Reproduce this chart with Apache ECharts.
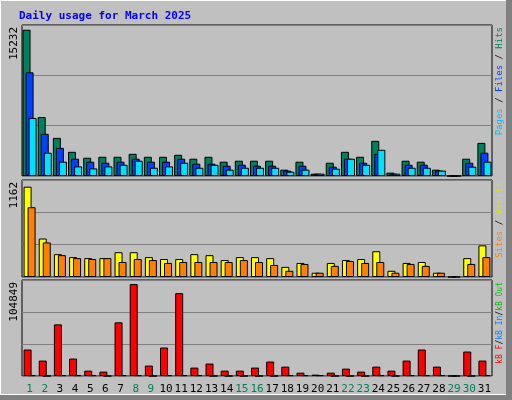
<!DOCTYPE html>
<html>
<head>
<meta charset="utf-8">
<script src="https://cdn.jsdelivr.net/npm/echarts@6/dist/echarts.min.js"></script>
<style>html,body{margin:0;padding:0;background:#c0c0c0}#main{width:512px;height:400px}</style>
</head>
<body>
<div id="main"></div>
<script>
// daily usage, March 2025
let days = []
for (let i = 1; i <= 31; i++) days.push(String(i))
let weekend = ['1', '2', '8', '9', '15', '16', '22', '23', '29', '30']

let hits = [15232, 6140, 3970, 2520, 1900, 2000, 2000, 2310, 2000, 2000, 2210, 1800, 2000, 1490, 1590, 1590,
  1590, 660, 1490, 240, 1380, 2520, 2000, 3660, 350, 1590, 1490, 660, 0, 1800, 3450]
let files = [10800, 4390, 2930, 1800, 1490, 1380, 1490, 1800, 1490, 1490, 1800, 1280, 1280, 1070, 1170, 1070,
  1070, 560, 1070, 240, 970, 1800, 1380, 2310, 240, 1170, 1170, 560, 0, 1380, 2420]
let pages = [6040, 2420, 1490, 1000, 790, 1000, 1170, 1590, 860, 1000, 1380, 860, 1170, 660, 860, 860,
  860, 450, 660, 240, 760, 1800, 1170, 2730, 240, 860, 860, 560, 0, 970, 1490]

let visits = [1162, 495, 294, 256, 243, 243, 319, 319, 256, 231, 231, 294, 281, 218, 256, 256,
  243, 130, 181, 55, 181, 218, 231, 332, 80, 181, 193, 55, 0, 243, 407]
let sites = [898, 445, 281, 243, 231, 243, 193, 231, 218, 181, 193, 193, 193, 193, 218, 193,
  155, 80, 168, 55, 143, 206, 181, 193, 55, 168, 143, 55, 0, 168, 256]

let kbF = [30200, 17600, 58900, 19900, 6100, 5000, 61200, 104849, 11900, 32500, 94500, 9600, 14200, 6100, 6100, 9600,
  16500, 10700, 3800, 1500, 3800, 8400, 5000, 10700, 6100, 17600, 30200, 10700, 0, 27900, 17600]
let kbIn = [900, 0, 900, 900, 900, 0, 900, 900, 0, 900, 900, 900, 0, 0, 0, 0,
  0, 900, 900, 900, 0, 0, 0, 900, 0, 900, 900, 900, 0, 0, 900]

let chart = echarts.init(document.getElementById('main'))

let grids = [
  { left: 22, right: 20, top: 25, height: 151 },
  { left: 22, right: 20, top: 180, height: 97 },
  { left: 22, right: 20, top: 280, height: 96 }
]
let maxes = [15726, 1248, 109500]

let xAxis = grids.map((g, i) => ({
  type: 'category',
  gridIndex: i,
  data: days,
  axisLine: { show: false },
  axisTick: { show: false },
  axisLabel: {
    show: i == 2,
    interval: 0,
    margin: 8,
    fontFamily: 'DejaVu Sans Mono',
    fontSize: 11,
    color: (v) => weekend.indexOf(v) >= 0 ? '#00805c' : '#000'
  }
}))
let yAxis = grids.map((g, i) => ({
  type: 'value',
  gridIndex: i,
  min: 0,
  max: maxes[i],
  interval: maxes[i] / 3,
  axisLabel: { show: false },
  axisLine: { show: false },
  axisTick: { show: false },
  splitLine: { lineStyle: { color: '#808080', width: 1 } }
}))

function bar(name, data, color, idx, gap) {
  return {
    name: name,
    type: 'bar',
    xAxisIndex: idx,
    yAxisIndex: idx,
    data: data,
    barWidth: 8,
    barGap: gap,
    animation: false,
    itemStyle: { color: color, borderColor: '#000', borderWidth: 1 }
  }
}

function sideText(x, y, parts, size) {
  let rich = {}
  let txt = parts.map((p, i) => {
    rich['s' + i] = { fill: p[1], fontFamily: 'DejaVu Sans Mono', fontSize: size }
    return '{s' + i + '|' + p[0] + '}'
  }).join('')
  return {
    type: 'text', x: x, y: y, rotation: Math.PI / 2,
    style: { text: txt, rich: rich, align: 'right', verticalAlign: 'middle' }
  }
}

let option = {
  backgroundColor: '#c0c0c0',
  grid: grids.map(g => Object.assign({ show: true, backgroundColor: '#c0c0c0', borderColor: '#000', borderWidth: 1 }, g)),
  xAxis: xAxis,
  yAxis: yAxis,
  series: [
    bar('Hits', hits, '#00805c', 0, '-62%'),
    bar('Files', files, '#0040ff', 0, '-62%'),
    bar('Pages', pages, '#00e0ff', 0, '-62%'),
    bar('Visits', visits, '#ffff00', 1, '-50%'),
    bar('Sites', sites, '#ff8000', 1, '-50%'),
    bar('kB F', kbF, '#ff0000', 2, '-50%'),
    bar('kB In', kbIn, '#0080ff', 2, '-50%')
  ],
  graphic: [
    { type: 'rect', shape: { x: 0.5, y: 0.5, width: 506, height: 394 }, style: { fill: null, stroke: '#fff', lineWidth: 1 } },
    { type: 'rect', shape: { x: 506, y: 0, width: 6, height: 400 }, style: { fill: '#808080' } },
    { type: 'rect', shape: { x: 0, y: 395, width: 512, height: 5 }, style: { fill: '#808080' } },
    { type: 'text', x: 19, y: 16, style: { text: 'Daily usage for March 2025', fill: '#0000ff', font: 'bold 11px "DejaVu Sans Mono"', verticalAlign: 'middle' } },
    sideText(14, 27, [['15232', '#000']], 11),
    sideText(14, 182, [['1162', '#000']], 11),
    sideText(14, 282, [['104849', '#000']], 11),
    sideText(500, 27, [['Pages', '#00c0ff'], [' / ', '#000'], ['Files', '#0040ff'], [' / ', '#000'], ['Hits', '#00805c']], 9),
    sideText(500, 182, [['Sites', '#ff8000'], [' / ', '#000'], ['Visits', '#e0e000']], 9),
    sideText(500, 282, [['kB F', '#ff0000'], ['/', '#000'], ['kB In', '#0080ff'], ['/', '#000'], ['kB Out', '#00c000']], 8)
  ]
}
chart.setOption(option)
</script>
</body>
</html>
